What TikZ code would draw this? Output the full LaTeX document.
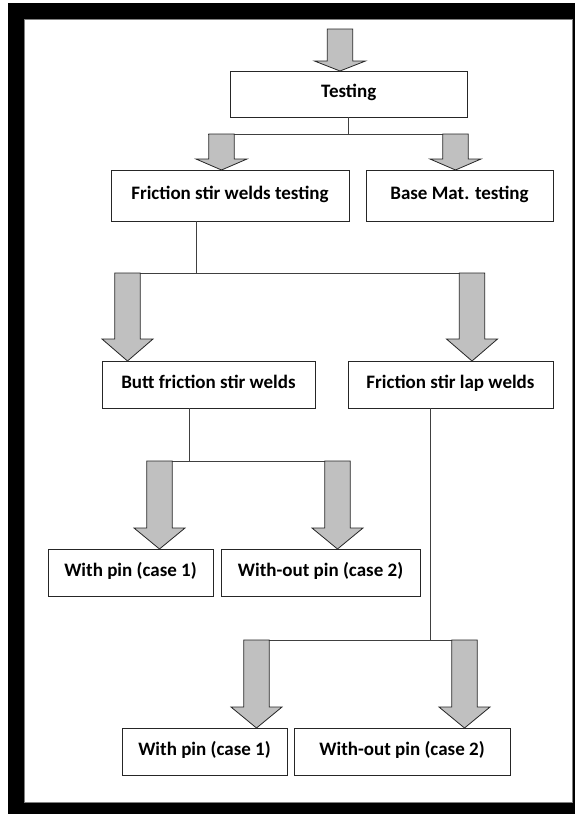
\documentclass[tikz,border=0pt]{standalone}
\usepackage{fontspec}
\setmainfont{Carlito}
\usetikzlibrary{calc}
\definecolor{arrowgray}{HTML}{C0C0C0}
\tikzset{
  box/.style={draw=black!85, line width=0.9pt, fill=white, inner sep=0pt,
              text height=13pt, text depth=6pt,
              font=\fontsize{19}{23}\selectfont\bfseries},
  conn/.style={draw=black!75, line width=0.8pt},
  blockarrow/.style={fill=arrowgray, draw=black!85, line width=0.8pt, line join=miter}
}
% \garrow{centre x}{top y}{head start y}{tip y}
\newcommand{\garrow}[4]{%
  \filldraw[blockarrow] ({#1-12.7},#2) -- ({#1+12.7},#2) -- ({#1+12.7},#3) -- ({#1+25.5},#3)
    -- (#1,#4) -- ({#1-25.5},#3) -- ({#1-12.7},#3) -- cycle;}
\begin{document}
\begin{tikzpicture}[x=1pt,y=-1pt]
\useasboundingbox (0,0) rectangle (575,814);
% frame
\fill[black] (8,3) rectangle (575,814);
\filldraw[fill=white, draw=black!50, line width=0.6pt] (24,19) rectangle (572.5,802);

% boxes
\node[box, minimum width=237.5pt, minimum height=46pt] (testing) at (348.75,94) {Testing};
\node[box, minimum width=238pt, minimum height=51pt] (fsw) at (230,195.5) {Friction stir welds testing};
\node[box, minimum width=187pt, minimum height=51pt] (base) at (459.5,195.5) {Base Mat. testing};
\node[box, minimum width=213pt, minimum height=47pt] (butt) at (208.5,384.5) {Butt friction stir welds};
\node[box, minimum width=205pt, minimum height=47pt] (lap) at (450.5,384.5) {Friction stir lap welds};
\node[box, minimum width=165pt, minimum height=47pt] (wpa) at (130.5,572.5) {With pin (case 1)};
\node[box, minimum width=199pt, minimum height=47pt] (woa) at (320.5,572.5) {With-out pin (case 2)};
\node[box, minimum width=165pt, minimum height=47pt] (wpb) at (204.5,751.5) {With pin (case 1)};
\node[box, minimum width=216pt, minimum height=47pt] (wob) at (402,751.5) {With-out pin (case 2)};

% junction coordinates
\coordinate (j1) at (349,134);
\coordinate (j2) at (196,273);
\coordinate (j3) at (189,461);
\coordinate (j4) at (430,640);

% connectors
\draw[conn] (testing.south) -- (testing.south |- j1);
\draw[conn] (208,134) -- (468,134);
\draw[conn] (j2 |- fsw.south) -- (j2);
\draw[conn] (115,273) -- (485,273);
\draw[conn] (j3 |- butt.south) -- (j3);
\draw[conn] (147,461) -- (350,461);
\draw[conn] (j4 |- lap.south) -- (j4);
\draw[conn] (244,640) -- (477,640);

% block arrows
\garrow{340}{29}{61}{71}
\garrow{221.5}{134}{159}{170}
\garrow{455.5}{134}{159}{170}
\garrow{127.5}{273}{339}{361}
\garrow{472}{273}{339}{361}
\garrow{159.5}{461}{528}{549}
\garrow{337.5}{461}{528}{549}
\garrow{256.5}{640}{707}{728}
\garrow{464.5}{640}{707}{728}
\end{tikzpicture}
\end{document}
